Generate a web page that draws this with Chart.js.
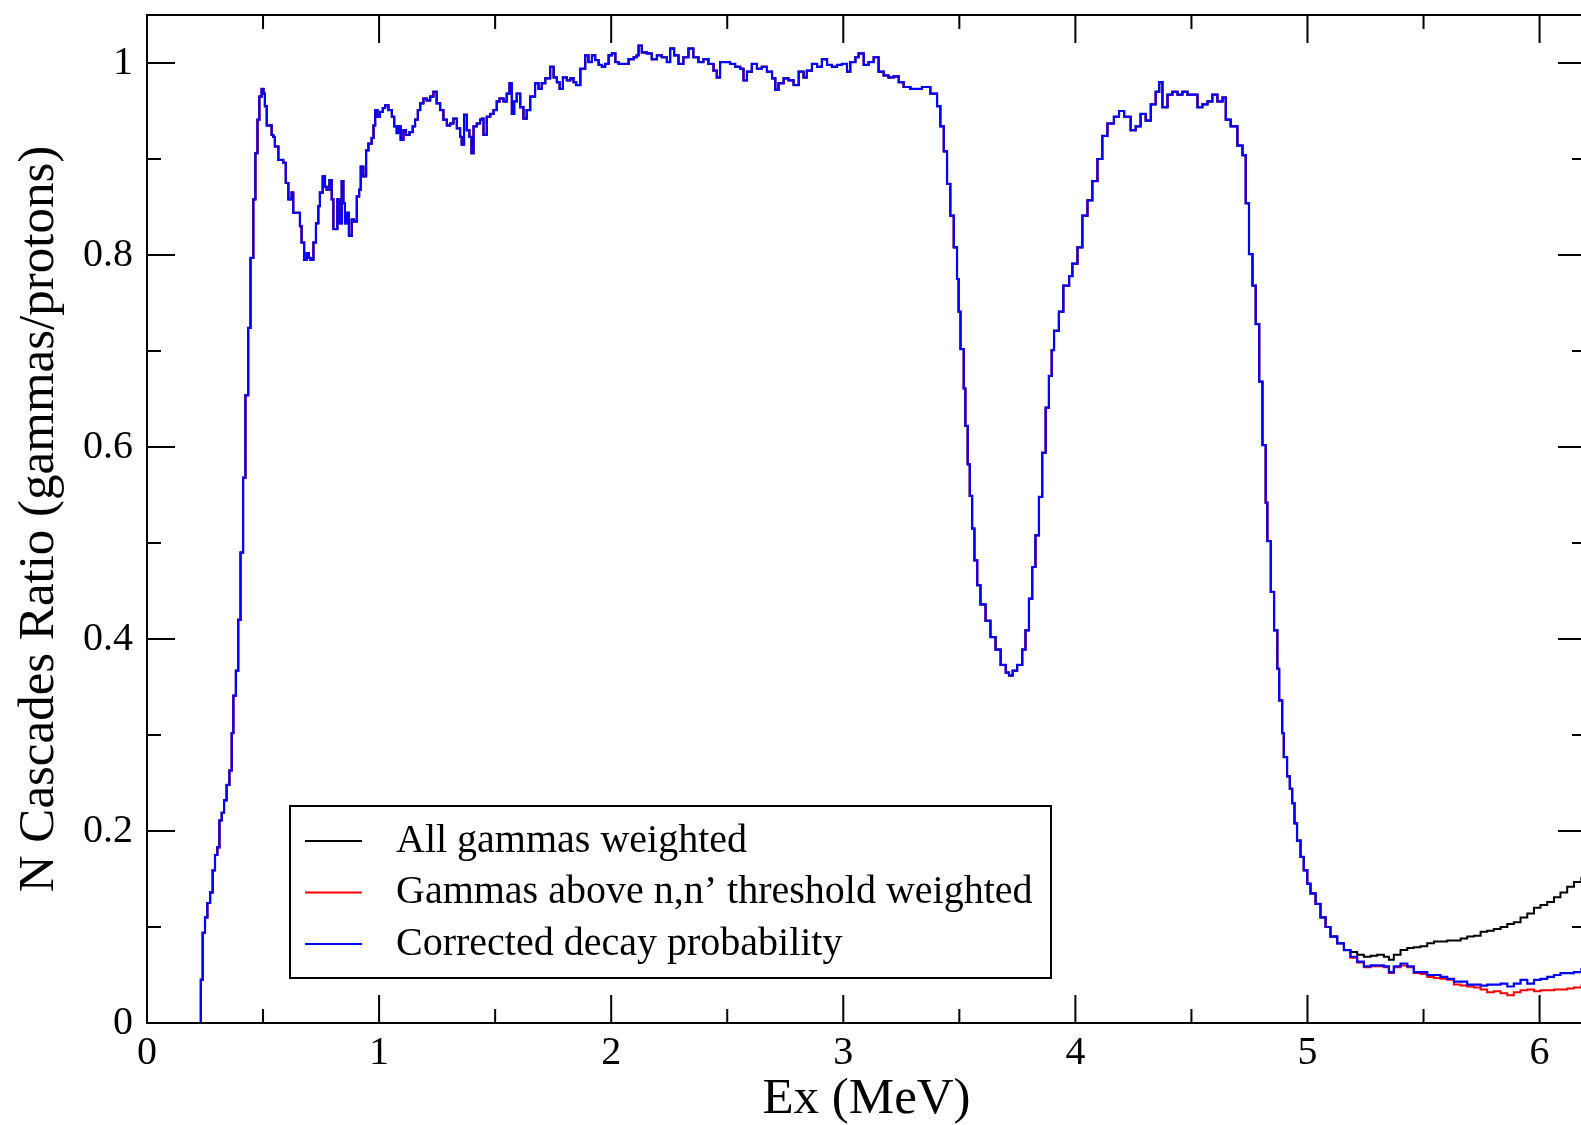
<!DOCTYPE html>
<html>
<head>
<meta charset="utf-8">
<script src="https://cdn.jsdelivr.net/npm/chart.js@4.4.1/dist/chart.umd.min.js"></script>
<style>
  html, body { margin: 0; padding: 0; overflow: hidden; background: #fff; }
</style>
</head>
<body>
<canvas id="grafico-cascatas" width="1600" height="1125"></canvas>
<script>
// energies (MeV) and ratio where the three curves coincide
const commonEx = [
  0.230, 0.232, 0.240, 0.250, 0.260, 0.272, 0.283, 0.293, 0.303, 0.312, 0.322, 0.332, 0.343, 0.355, 0.365, 0.372,
  0.383, 0.393, 0.403, 0.414, 0.424, 0.436, 0.446, 0.458, 0.467, 0.476, 0.484, 0.494, 0.502, 0.508, 0.516, 0.530,
  0.537, 0.544, 0.551, 0.566, 0.587, 0.598, 0.609, 0.623, 0.630, 0.645, 0.659, 0.666, 0.677, 0.688, 0.697, 0.705,
  0.717, 0.728, 0.738, 0.745, 0.757, 0.767, 0.774, 0.786, 0.796, 0.803, 0.810, 0.820, 0.829, 0.839, 0.846, 0.853,
  0.860, 0.870, 0.882, 0.892, 0.904, 0.914, 0.921, 0.932, 0.944, 0.954, 0.968, 0.976, 0.983, 0.993, 1.004, 1.016,
  1.026, 1.040, 1.055, 1.065, 1.076, 1.083, 1.093, 1.105, 1.116, 1.131, 1.145, 1.155, 1.167, 1.177, 1.191, 1.205,
  1.220, 1.234, 1.248, 1.263, 1.277, 1.292, 1.306, 1.320, 1.335, 1.349, 1.356, 1.366, 1.378, 1.389, 1.398, 1.407,
  1.421, 1.435, 1.443, 1.450, 1.464, 1.479, 1.493, 1.507, 1.519, 1.536, 1.550, 1.562, 1.572, 1.582, 1.593, 1.608,
  1.622, 1.636, 1.651, 1.672, 1.687, 1.701, 1.716, 1.737, 1.752, 1.766, 1.778, 1.792, 1.809, 1.824, 1.838, 1.849,
  1.867, 1.888, 1.902, 1.917, 1.931, 1.946, 1.960, 1.974, 1.989, 2.003, 2.018, 2.032, 2.053, 2.075, 2.097, 2.110,
  2.118, 2.132, 2.154, 2.175, 2.197, 2.218, 2.240, 2.254, 2.271, 2.290, 2.311, 2.333, 2.354, 2.376, 2.397, 2.419,
  2.441, 2.455, 2.469, 2.491, 2.512, 2.534, 2.556, 2.570, 2.585, 2.606, 2.628, 2.649, 2.671, 2.693, 2.707, 2.721,
  2.743, 2.764, 2.786, 2.808, 2.829, 2.843, 2.865, 2.887, 2.908, 2.930, 2.951, 2.973, 2.994, 3.016, 3.030, 3.052,
  3.066, 3.088, 3.109, 3.131, 3.152, 3.174, 3.195, 3.217, 3.239, 3.260, 3.289, 3.339, 3.375, 3.404, 3.418, 3.433,
  3.447, 3.461, 3.476, 3.490, 3.497, 3.505, 3.519, 3.526, 3.536, 3.545, 3.555, 3.565, 3.577, 3.591, 3.613, 3.634,
  3.656, 3.678, 3.700, 3.714, 3.730, 3.749, 3.771, 3.785, 3.800, 3.814, 3.828, 3.843, 3.857, 3.872, 3.886, 3.898,
  3.908, 3.929, 3.948, 3.973, 3.987, 4.009, 4.030, 4.052, 4.073, 4.095, 4.116, 4.138, 4.166, 4.188, 4.210, 4.238,
  4.260, 4.281, 4.303, 4.325, 4.346, 4.361, 4.375, 4.397, 4.418, 4.440, 4.461, 4.483, 4.504, 4.526, 4.547, 4.569,
  4.590, 4.612, 4.634, 4.648, 4.669, 4.698, 4.720, 4.734, 4.748, 4.763, 4.777, 4.792, 4.806, 4.820, 4.827, 4.842,
  4.856, 4.870, 4.878, 4.891, 4.898, 4.912, 4.924, 4.934, 4.944, 4.955, 4.970, 4.984, 4.999, 5.013, 5.035, 5.056,
  5.078, 5.099, 5.128, 5.157
];
const commonRatio = [
  0.000, 0.045, 0.094, 0.110, 0.125, 0.136, 0.159, 0.175, 0.183, 0.211, 0.219, 0.232, 0.248, 0.263, 0.302, 0.341,
  0.367, 0.420, 0.490, 0.568, 0.654, 0.724, 0.797, 0.858, 0.906, 0.941, 0.965, 0.973, 0.968, 0.955, 0.935, 0.935,
  0.925, 0.923, 0.913, 0.899, 0.896, 0.875, 0.858, 0.865, 0.844, 0.844, 0.830, 0.813, 0.795, 0.802, 0.797, 0.795,
  0.813, 0.833, 0.851, 0.865, 0.882, 0.871, 0.868, 0.878, 0.858, 0.827, 0.827, 0.858, 0.833, 0.877, 0.854, 0.833,
  0.844, 0.820, 0.837, 0.835, 0.861, 0.868, 0.892, 0.882, 0.909, 0.916, 0.922, 0.935, 0.951, 0.944, 0.949, 0.953,
  0.956, 0.951, 0.944, 0.934, 0.927, 0.934, 0.920, 0.930, 0.925, 0.928, 0.934, 0.941, 0.951, 0.958, 0.963, 0.961,
  0.965, 0.970, 0.958, 0.951, 0.941, 0.935, 0.937, 0.942, 0.932, 0.923, 0.915, 0.946, 0.930, 0.923, 0.906, 0.934,
  0.937, 0.941, 0.942, 0.925, 0.944, 0.947, 0.951, 0.960, 0.963, 0.960, 0.968, 0.979, 0.947, 0.960, 0.968, 0.954,
  0.942, 0.951, 0.965, 0.979, 0.973, 0.979, 0.984, 0.996, 0.985, 0.980, 0.973, 0.985, 0.982, 0.984, 0.980, 0.977,
  0.994, 1.008, 1.001, 1.008, 1.003, 0.998, 0.996, 0.999, 1.008, 1.010, 1.001, 0.999, 0.999, 1.004, 1.006, 1.008,
  1.018, 1.011, 1.010, 1.004, 1.008, 1.006, 1.001, 1.015, 1.008, 0.999, 1.006, 1.015, 1.006, 1.001, 1.004, 0.999,
  0.992, 0.985, 1.001, 1.001, 0.999, 0.996, 0.994, 0.982, 0.991, 0.999, 0.994, 0.996, 0.991, 0.984, 0.972, 0.979,
  0.984, 0.982, 0.977, 0.991, 0.985, 0.992, 0.999, 0.996, 1.004, 0.998, 0.996, 0.998, 0.999, 0.991, 1.001, 1.006,
  1.010, 0.998, 1.001, 1.006, 0.991, 0.987, 0.985, 0.986, 0.980, 0.975, 0.973, 0.975, 0.968, 0.955, 0.934, 0.908,
  0.874, 0.841, 0.808, 0.775, 0.741, 0.702, 0.661, 0.622, 0.582, 0.549, 0.515, 0.482, 0.456, 0.436, 0.419, 0.402,
  0.389, 0.373, 0.365, 0.362, 0.367, 0.373, 0.389, 0.409, 0.442, 0.475, 0.508, 0.548, 0.594, 0.641, 0.674, 0.701,
  0.721, 0.741, 0.768, 0.778, 0.791, 0.808, 0.841, 0.857, 0.877, 0.900, 0.924, 0.937, 0.944, 0.950, 0.944, 0.930,
  0.934, 0.947, 0.940, 0.957, 0.970, 0.980, 0.954, 0.967, 0.970, 0.967, 0.970, 0.967, 0.967, 0.954, 0.957, 0.960,
  0.967, 0.960, 0.964, 0.941, 0.934, 0.914, 0.904, 0.854, 0.801, 0.768, 0.728, 0.668, 0.602, 0.542, 0.502, 0.449,
  0.409, 0.369, 0.336, 0.302, 0.277, 0.257, 0.244, 0.229, 0.208, 0.190, 0.173, 0.159, 0.145, 0.135, 0.124, 0.110,
  0.100, 0.090, 0.083, 0.076
];

// tail above 5.18 MeV where the curves separate
const tailEx = [
  5.185, 5.214, 5.243, 5.272, 5.300, 5.329, 5.351, 5.372, 5.401, 5.430, 5.458, 5.487, 5.516, 5.545, 5.573, 5.602,
  5.631, 5.660, 5.688, 5.717, 5.746, 5.774, 5.803, 5.832, 5.861, 5.889, 5.918, 5.947, 5.976, 6.004, 6.033, 6.062,
  6.090, 6.119, 6.148, 6.180
];
const tailAll = [
  0.074, 0.071, 0.069, 0.070, 0.071, 0.069, 0.066, 0.071, 0.076, 0.078, 0.079, 0.080, 0.083, 0.085, 0.085, 0.086,
  0.086, 0.088, 0.090, 0.091, 0.095, 0.096, 0.098, 0.100, 0.103, 0.105, 0.110, 0.114, 0.120, 0.123, 0.126, 0.131,
  0.136, 0.142, 0.147, 0.152
];
const tailAbove = [
  0.068, 0.063, 0.058, 0.059, 0.059, 0.058, 0.052, 0.058, 0.060, 0.058, 0.052, 0.051, 0.048, 0.047, 0.046, 0.045,
  0.040, 0.039, 0.038, 0.037, 0.035, 0.032, 0.033, 0.031, 0.029, 0.032, 0.034, 0.035, 0.033, 0.034, 0.034, 0.035,
  0.035, 0.036, 0.037, 0.040
];
const tailCorrected = [
  0.069, 0.064, 0.059, 0.060, 0.060, 0.059, 0.053, 0.059, 0.062, 0.059, 0.053, 0.053, 0.050, 0.050, 0.048, 0.046,
  0.043, 0.043, 0.040, 0.040, 0.039, 0.040, 0.040, 0.041, 0.038, 0.041, 0.045, 0.041, 0.045, 0.046, 0.048, 0.050,
  0.052, 0.052, 0.053, 0.057
];

const xTicks = [0, 1, 2, 3, 4, 5, 6];
const yTicks = [0, 0.2, 0.4, 0.6, 0.8, 1];

function serie(tail) {
  const pts = commonEx.map((e, i) => ({ x: e, y: commonRatio[i] }));
  tailEx.forEach((e, i) => pts.push({ x: e, y: tail[i] }));
  return pts;
}

const fonte = "Liberation Serif";

// frame with inward ticks on all four sides, plus the boxed legend
const molduraPlugin = {
  id: "moldura",
  afterDatasetsDraw(chart) {
    const { ctx, chartArea: a, scales } = chart;
    const x = scales.x, y = scales.y;
    ctx.save();
    ctx.strokeStyle = "#000";
    ctx.lineWidth = 2;
    ctx.strokeRect(a.left, a.top, a.right - a.left, a.bottom - a.top);
    ctx.beginPath();
    for (let i = 0; i <= 12; i++) {
      const px = x.getPixelForValue(i * 0.5);
      const len = i % 2 === 0 ? 28 : 14;
      ctx.moveTo(px, a.bottom); ctx.lineTo(px, a.bottom - len);
      ctx.moveTo(px, a.top); ctx.lineTo(px, a.top + len);
    }
    for (let i = 0; i <= 10; i++) {
      const py = y.getPixelForValue(i * 0.1);
      const len = i % 2 === 0 ? 28 : 14;
      ctx.moveTo(a.left, py); ctx.lineTo(a.left + len, py);
      ctx.moveTo(a.right, py); ctx.lineTo(a.right - len, py);
    }
    ctx.stroke();

    // legend
    const bx = a.left + 143, by = a.top + 791, bw = 761, bh = 172;
    ctx.fillStyle = "#fff";
    ctx.fillRect(bx, by, bw, bh);
    ctx.strokeRect(bx, by, bw, bh);
    ctx.font = "40px '" + fonte + "'";
    ctx.textBaseline = "middle";
    ctx.textAlign = "left";
    [0, 1, 2].forEach((k, row) => {
      const ds = chart.data.datasets[k];
      const ly = by + 35 + row * 51.5;
      ctx.strokeStyle = ds.borderColor;
      ctx.beginPath();
      ctx.moveTo(bx + 15, ly); ctx.lineTo(bx + 72, ly);
      ctx.stroke();
      ctx.fillStyle = "#000";
      ctx.fillText(ds.label, bx + 106, ly);
    });
    ctx.restore();
  }
};

const ctxCascatas = document.getElementById("grafico-cascatas").getContext("2d");
const cascatasConfig = {
  type: "line",
  data: {
    datasets: [
      {
        label: "All gammas weighted",
        data: serie(tailAll),
        borderColor: "#000000",
        borderWidth: 2,
        pointRadius: 0,
        stepped: true,
        fill: false,
        order: 2,
      },
      {
        label: "Gammas above n,n\u2019 threshold weighted",
        data: serie(tailAbove),
        borderColor: "#ff0000",
        borderWidth: 2,
        pointRadius: 0,
        stepped: true,
        fill: false,
        order: 1,
      },
      {
        label: "Corrected decay probability",
        data: serie(tailCorrected),
        borderColor: "#0000ff",
        borderWidth: 2.2,
        pointRadius: 0,
        stepped: true,
        fill: false,
        order: 0,
      },
    ],
  },
  options: {
    responsive: false,
    animation: false,
    layout: { padding: { top: 15, right: 14, left: 0, bottom: 0 } },
    scales: {
      x: {
        type: "linear",
        min: 0,
        max: 6.2,
        afterFit: (s) => { s.height = 102; s.paddingLeft = 0; s.paddingRight = 0; },
        afterBuildTicks: (s) => { s.ticks = xTicks.map((v) => ({ value: v })); },
        grid: { display: false, drawTicks: false },
        border: { display: false },
        ticks: {
          color: "#000",
          padding: 6,
          font: { family: fonte, size: 40 },
          callback: (v) => String(v),
        },
        title: {
          display: true,
          text: "Ex (MeV)",
          color: "#000",
          padding: { top: 0, bottom: 0 },
          font: { family: fonte, size: 51, lineHeight: 1 },
        },
      },
      y: {
        type: "linear",
        min: 0,
        max: 1.05,
        afterFit: (s) => { s.width = 147; s.paddingTop = 0; s.paddingBottom = 0; },
        afterBuildTicks: (s) => { s.ticks = yTicks.map((v) => ({ value: v })); },
        grid: { display: false, drawTicks: false },
        border: { display: false },
        ticks: {
          color: "#000",
          padding: 14,
          font: { family: fonte, size: 40 },
          callback: (v) => String(+v.toFixed(1)),
        },
        title: {
          display: true,
          text: "N Cascades Ratio (gammas/protons)",
          color: "#000",
          padding: { top: 14, bottom: 0 },
          font: { family: fonte, size: 51, lineHeight: 1 },
        },
      },
    },
    plugins: {
      legend: { display: false },
      tooltip: { enabled: false },
    },
  },
  plugins: [molduraPlugin],
};
const graficoCascatas = new Chart(ctxCascatas, cascatasConfig);
</script>
</body>
</html>
